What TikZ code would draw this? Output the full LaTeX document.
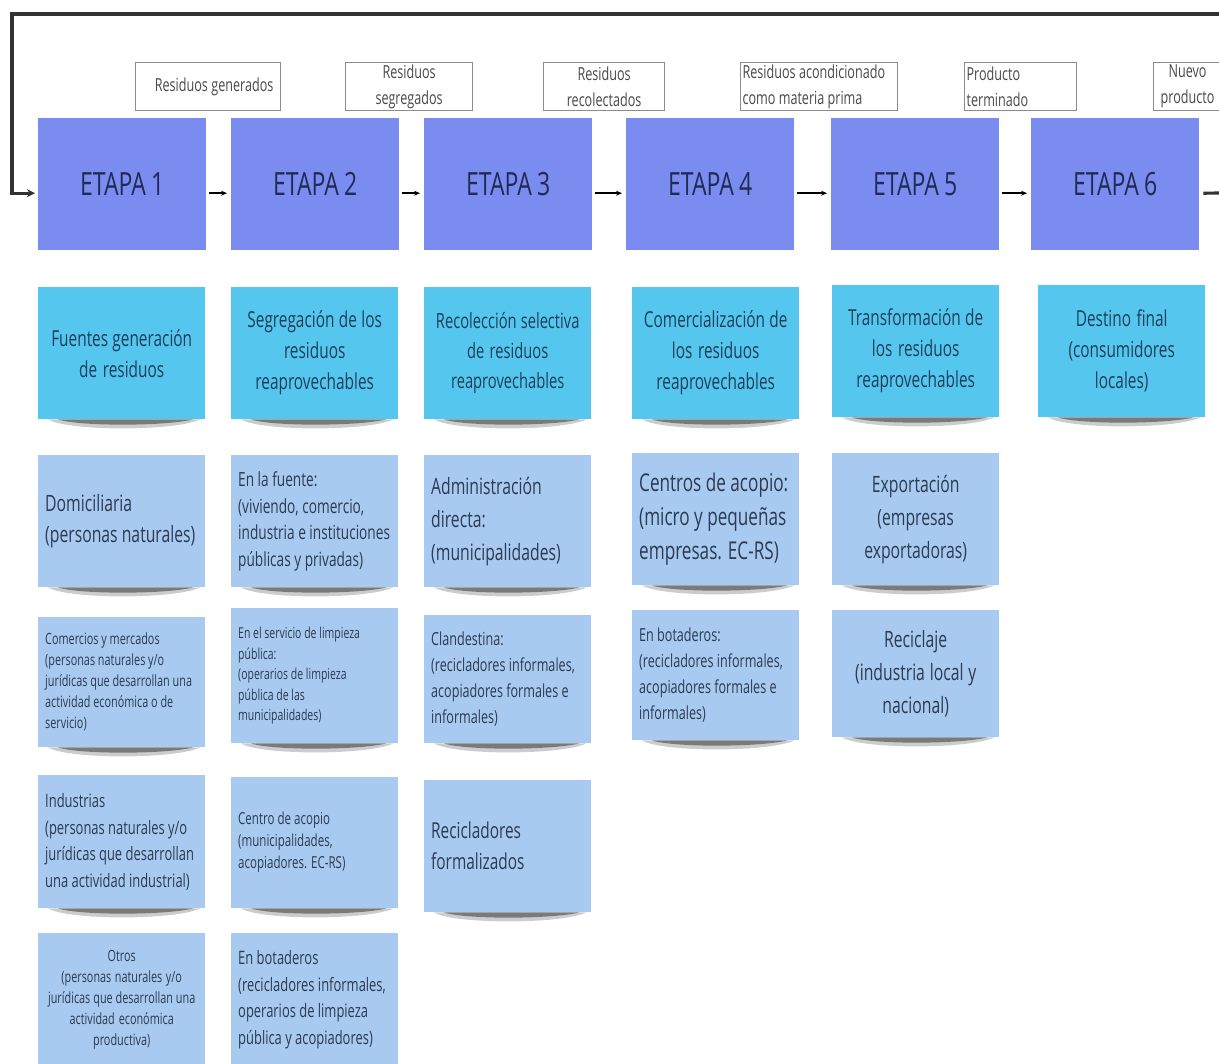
\documentclass[tikz,border=0pt]{standalone}
\usepackage{fontspec}
\setmainfont{Open Sans}[FakeStretch=0.7]
\newfontfamily\etapafont{Open Sans}[FakeStretch=0.72, WordSpace=0.85]
\usetikzlibrary{arrows.meta}

\definecolor{etapafill}{HTML}{7B8CF0}
\definecolor{etapatext}{HTML}{1F2B55}
\definecolor{stagefill}{HTML}{55C6EE}
\definecolor{stagetext}{HTML}{1E3E5C}
\definecolor{itemfill}{HTML}{A8CAF0}
\definecolor{itemtext}{HTML}{2C3A52}
\definecolor{tagline}{HTML}{8C8C8C}
\definecolor{tagtext}{HTML}{4A4A4A}
\definecolor{loopcol}{HTML}{333333}

\pgfdeclarelayer{backdrop}
\pgfdeclarelayer{shadow}
\pgfsetlayers{backdrop,shadow,main}

\newcommand\fs[2]{\fontsize{#1}{#2}\selectfont}
\hyphenpenalty=10000
\exhyphenpenalty=10000

\begin{document}
\begin{tikzpicture}[x=1pt,y=-1pt,
  % keep the font's own word spacing inside aligned nodes
  every node/.style={execute at begin node={\spaceskip=0pt\xspaceskip=0pt\relax}},
  etapa/.style={fill=etapafill, text=etapatext, minimum width=168pt,
    minimum height=132pt, inner sep=0pt, anchor=north west,
    font=\etapafont\fs{32}{38}},
  note/.style={anchor=north west, minimum width=167pt, minimum height=132pt,
    text width=153pt, inner sep=7pt},
  stagebox/.style={note, fill=stagefill, text=stagetext, align=center,
    font=\fs{22}{31}},
  itembox/.style={note, fill=itemfill, text=itemtext},
  tagbox/.style={draw=tagline, line width=1.2pt, fill=white, text=tagtext,
    anchor=north west, inner sep=2pt, minimum height=48pt, font=\fs{18}{26}},
  flow/.style={-{Stealth[length=6pt,width=5pt]}, line width=1.6pt,
    shorten <=3pt, shorten >=4pt},
  loopline/.style={draw=loopcol, line width=3.2pt},
]
\useasboundingbox (0,0) rectangle (1219,1064);
\begin{pgfonlayer}{backdrop}
  \fill[white] (0,0) rectangle (1219,1064);
\end{pgfonlayer}
\clip (0,0) rectangle (1219,1064);

% stage headers
\node[etapa] (e1) at (38,118)   {ETAPA 1};
\node[etapa] (e2) at (231,118)  {ETAPA 2};
\node[etapa] (e3) at (424,118)  {ETAPA 3};
\node[etapa] (e4) at (626,118)  {ETAPA 4};
\node[etapa] (e5) at (831,118)  {ETAPA 5};
\node[etapa] (e6) at (1031,118) {ETAPA 6};

% output of each stage
\node[tagbox, minimum width=145pt, text width=141pt, align=center] (t1) at (135,62) {\hspace*{12pt}Residuos generados};
\node[tagbox, minimum width=127pt, text width=123pt, align=center] (t2) at (345,62) {Residuos\\segregados};
\node[tagbox, minimum width=121pt, text width=117pt, align=center] (t3) at (543,62) {Residuos\\recolectados};
\node[tagbox, minimum width=157pt, text width=153pt, align=left] (t4) at (740,62) {Residuos acondicionado\\como materia prima};
\node[tagbox, minimum width=112pt, text width=108pt, align=left] (t5) at (964,62) {Producto\\terminado};
\node[tagbox, minimum width=68pt, text width=64pt, align=center] (t6) at (1153,62) {Nuevo\\producto};

% stage descriptions
\node[stagebox] (c1) at (38,287)  {Fuentes generación\\de residuos};
\node[stagebox] (c2) at (231,287) {Segregación de los\\residuos\\reaprovechables};
\node[stagebox, font=\fs{21}{30}] (c3) at (424,287) {Recolección selectiva\\de residuos\\reaprovechables};
\node[stagebox] (c4) at (632,287) {Comercialización de\\los residuos\\reaprovechables};
\node[stagebox] (c5) at (832,285) {Transformación de\\los residuos\\reaprovechables};
\node[stagebox] (c6) at (1038,285) {Destino final\\(consumidores\\locales)};

% actors, first row
\node[itembox, align=left, font=\fs{22.5}{31}] (d1) at (38,455) {Domiciliaria\\(personas naturales)};
\node[itembox, align=left, font=\fs{19.5}{26.5}] (d2) at (231,455) {En la fuente:\\(viviendo, comercio,\\industria e instituciones\\públicas y privadas)};
\node[itembox, align=left, font=\fs{22.5}{33}] (d3) at (424,455) {Administración\\directa:\\(municipalidades)};
\node[itembox, align=left, font=\fs{24.5}{34}] (d4) at (632,453) {Centros de acopio:\\(micro y pequeñas\\empresas. EC-RS)};
\node[itembox, align=center, font=\fs{22.5}{33}] (d5) at (832,453) {Exportación\\(empresas\\exportadoras)};

% actors, second row
\node[itembox, minimum height=130pt, align=left, font=\fs{15.5}{21}] (r4c1) at (38,617) {Comercios y mercados\\(personas naturales y/o\\jurídicas que desarrollan una\\actividad económica o de\\servicio)};
\node[itembox, minimum height=135pt, align=left, font=\fs{15}{20.5}] (r4c2) at (231,608) {En el servicio de limpieza\\pública:\\(operarios de limpieza\\pública de las\\municipalidades)};
\node[itembox, minimum height=128pt, align=left, font=\fs{18}{26}] (r4c3) at (424,615) {Clandestina:\\(recicladores informales,\\acopiadores formales e\\informales)};
\node[itembox, minimum height=130pt, align=left, font=\fs{18}{26}] (r4c4) at (632,610) {En botaderos:\\(recicladores informales,\\acopiadores formales e\\informales)};
\node[itembox, minimum height=127pt, align=center, font=\fs{22.5}{33}] (r4c5) at (832,610) {Reciclaje\\(industria local y\\nacional)};

% actors, third row
\node[itembox, minimum height=133pt, align=left, font=\fs{18.5}{26.5}] (r5c1) at (38,775) {Industrias\\(personas naturales y/o\\jurídicas que desarrollan\\una actividad industrial)};
\node[itembox, minimum height=131pt, align=left, font=\fs{16.5}{22}] (r5c2) at (231,777) {Centro de acopio\\(municipalidades,\\acopiadores. EC-RS)};
\node[itembox, align=left, font=\fs{22}{31}] (r5c3) at (424,780) {Recicladores\\formalizados};

% actors, fourth row
\node[itembox, minimum height=133pt, align=center, font=\fs{15.5}{21}] (r6c1) at (38,933) {Otros\\(personas naturales y/o\\jurídicas que desarrollan una\\actividad económica\\productiva)};
\node[itembox, minimum height=133pt, align=left, font=\fs{18.5}{26.5}] (r6c2) at (231,933) {En botaderos\\(recicladores informales,\\operarios de limpieza\\pública y acopiadores)};

% sticky-note shadows under the boxes
\begin{pgfonlayer}{shadow}
\foreach \n in {c1,c2,c3,c4,c5,c6,d1,d2,d3,d4,d5,r4c1,r4c2,r4c3,r4c4,r4c5,r5c1,r5c2,r5c3,r6c1,r6c2} {
  \fill[black, opacity=.2] ([xshift=10pt]\n.south west)
    .. controls ([xshift=30pt,yshift=-12pt]\n.south west) and ([xshift=-30pt,yshift=-12pt]\n.south east)
    .. ([xshift=-5pt]\n.south east) -- cycle;
  \fill[black, opacity=.4] ([xshift=20pt]\n.south west)
    .. controls ([xshift=40pt,yshift=-7pt]\n.south west) and ([xshift=-40pt,yshift=-7pt]\n.south east)
    .. ([xshift=-12pt]\n.south east) -- cycle;
}
\end{pgfonlayer}

% flow between stages
\draw[flow] ([yshift=-9pt]e1.east) -- ([yshift=-9pt]e2.west);
\draw[flow] ([yshift=-9pt]e2.east) -- ([yshift=-9pt]e3.west);
\draw[flow] ([yshift=-9pt]e3.east) -- ([yshift=-9pt]e4.west);
\draw[flow] ([yshift=-9pt]e4.east) -- ([yshift=-9pt]e5.west);
\draw[flow] ([yshift=-9pt]e5.east) -- ([yshift=-9pt]e6.west);

% return loop from the last stage back to the first
\coordinate (loopR)  at (1230,193);
\coordinate (loopTR) at (1230,14);
\coordinate (loopTL) at (12,14);
\draw[loopline, shorten <=4pt] ([yshift=-9pt]e6.east) -- (loopR);
\draw[loopline, -{Stealth[length=8pt,width=8pt]}, shorten >=3pt]
  (loopTR) -- (loopTL) |- ([yshift=-9pt]e1.west);
\end{tikzpicture}
\end{document}
